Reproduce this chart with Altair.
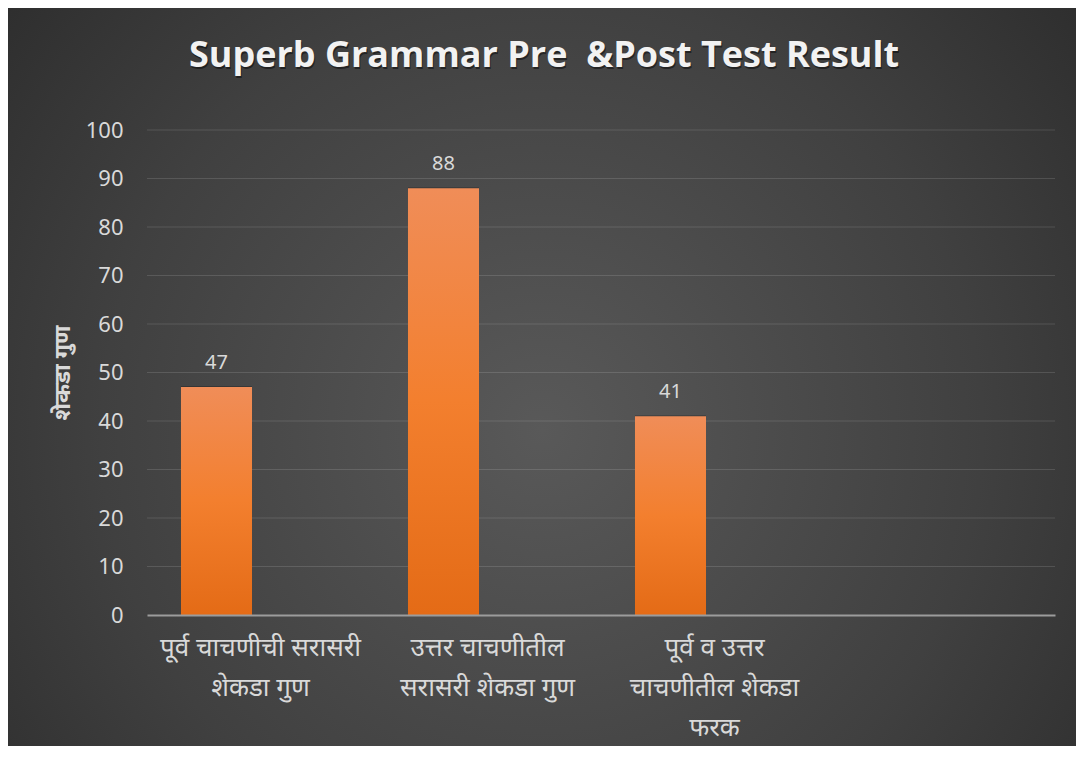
import altair as alt
import pandas as pd

# ---- data ----
categories = [
    "पूर्व चाचणीची सरासरी|शेकडा गुण",
    "उत्तर चाचणीतील|सरासरी शेकडा गुण",
    "पूर्व व उत्तर|चाचणीतील शेकडा|फरक",
    " ",
]
values = [47, 88, 41]
series_slots = ["Series1", "Series2"]
y_ticks = [0, 10, 20, 30, 40, 50, 60, 70, 80, 90, 100]
title_text = "Superb Grammar Pre \u00a0&Post Test Result"
y_title = "शेकडा गुण"

# ---- layout ----
W, H = 908, 485
PL, PT, PR, PB = 139, 122, 21, 131

df = pd.DataFrame({"cat": categories[:3], "value": values, "series": series_slots[0]})
grid_df = pd.DataFrame({"t": y_ticks[1:]})
one_df = pd.DataFrame({"k": [0]})

bg_gradient = {
    "gradient": "radial",
    "x1": 0.5, "y1": 0.55, "r1": 0,
    "x2": 0.5, "y2": 0.55, "r2": 0.75,
    "stops": [
        {"offset": 0, "color": "#595959"},
        {"offset": 0.55, "color": "#404040"},
        {"offset": 1, "color": "#262626"},
    ],
}
bar_gradient = {
    "gradient": "linear",
    "x1": 0, "y1": 0, "x2": 0, "y2": 1,
    "stops": [
        {"offset": 0, "color": "#F08D58"},
        {"offset": 0.5, "color": "#F37F2E"},
        {"offset": 1, "color": "#E46B16"},
    ],
}

x_enc = alt.X(
    "cat:N",
    sort=categories,
    scale=alt.Scale(domain=categories, paddingInner=0, paddingOuter=0),
    axis=alt.Axis(
        title=None,
        labelExpr="split(datum.label, '|')",
        labelAngle=0,
        labelFontSize=26,
        labelColor="#d9d9d9",
        labelLineHeight=40,
        labelPadding=19,
        labelLimit=400,
        labelFont="Noto Sans",
        ticks=False,
        domain=True,
        domainColor="#9c9c9c",
        domainWidth=2,
        grid=False,
        zindex=2,
    ),
)
xoff_enc = alt.XOffset(
    "series:N",
    scale=alt.Scale(domain=series_slots, paddingInner=0.193, paddingOuter=0.386),
)
y_enc = alt.Y(
    "value:Q",
    scale=alt.Scale(domain=[0, 100]),
    axis=alt.Axis(
        values=y_ticks,
        grid=False,
        ticks=False,
        domain=False,
        labelFontSize=22,
        labelColor="#d9d9d9",
        labelPadding=24,
        labelFont="Noto Sans",
        title=y_title,
        titleFontSize=23,
        titleFontWeight="bold",
        titleColor="#d9d9d9",
        titleFont="Noto Sans",
        titleAngle=-90,
        titleX=-85,
        titleY=H / 2,
        titleAlign="center",
        titleBaseline="middle",
        zindex=2,
    ),
)

background = alt.Chart(one_df).mark_rect(fill=bg_gradient).encode(
    x=alt.value(-PL), x2=alt.value(W + PR), y=alt.value(-PT), y2=alt.value(H + PB)
)

title_style = dict(
    text=title_text,
    fontSize=36,
    fontWeight="bold",
    font="Open Sans",
    align="center",
    baseline="alphabetic",
)
title_shadow = alt.Chart(one_df).mark_text(
    color="#000000", opacity=0.45, dx=1, dy=2, **title_style
).encode(x=alt.value(397), y=alt.value(-63))
title = alt.Chart(one_df).mark_text(color="#f2f2f2", **title_style).encode(
    x=alt.value(397), y=alt.value(-63)
)

grid = alt.Chart(grid_df).mark_rule(color="#ffffff", opacity=0.13, strokeWidth=1).encode(
    y=alt.Y("t:Q")
)

shadow = alt.Chart(df).mark_bar(color="#000000", opacity=0.22, xOffset=3, yOffset=-1).encode(
    x=x_enc, xOffset=xoff_enc, y=y_enc
)

bars = alt.Chart(df).mark_bar(color=bar_gradient).encode(
    x=x_enc, xOffset=xoff_enc, y=y_enc
)

labels = alt.Chart(df).mark_text(
    dy=-18, baseline="alphabetic", fontSize=20, color="#d9d9d9", font="Noto Sans"
).encode(x=x_enc, xOffset=xoff_enc, y=y_enc, text=alt.Text("value:Q"))

chart = (
    alt.layer(background, title_shadow, title, grid, shadow, bars, labels)
    .properties(
        width=W,
        height=H,
        autosize=alt.AutoSizeParams(type="none"),
        padding={"left": PL, "top": PT, "right": PR, "bottom": PB},
        background="#333333",
    )
    .configure_view(stroke=None)
)

chart.save("out.html", embed_options={"renderer": "svg", "actions": False})
